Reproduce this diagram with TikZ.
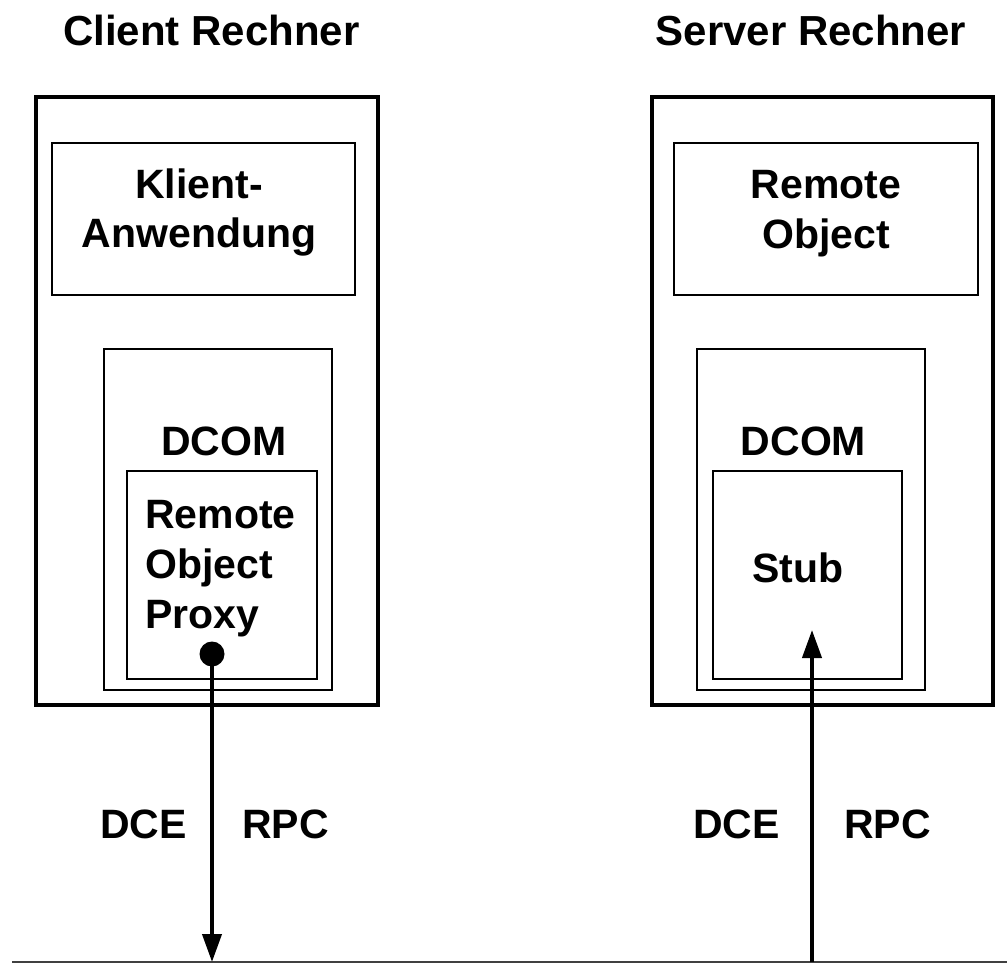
\documentclass[tikz,border=0pt]{standalone}
\usepackage{fontspec}
\setmainfont{Liberation Sans}
\usetikzlibrary{arrows.meta}

% Multi-line label whose baseline is that of its first line
\newcommand{\cblock}[1]{\begin{tabular}[t]{@{}c@{}}#1\end{tabular}}
\newcommand{\lblock}[1]{\begin{tabular}[t]{@{}l@{}}#1\end{tabular}}

\tikzset{
  hostbox/.style={draw, line width=4pt, inner sep=0pt, rectangle},
  appbox/.style={draw, line width=1.8pt, inner sep=0pt, rectangle},
  layerbox/.style={draw, line width=1.8pt, inner sep=0pt, rectangle},
  title/.style={font=\fontsize{42}{48}\selectfont\bfseries, anchor=base, inner sep=0pt},
  lbl/.style={font=\fontsize{41}{50}\selectfont\bfseries, anchor=base, inner sep=0pt},
  lbllines/.style={font=\fontsize{41}{50}\selectfont\bfseries, inner sep=0pt},
  rpcarrow/.style={line width=4pt, -{Triangle[length=28pt,width=19pt]}},
  busline/.style={line width=1.5pt, draw=black!75},
}

\begin{document}
\begin{tikzpicture}[x=1pt, y=-1pt]
  \useasboundingbox (0,0) rectangle (1007,963);

  % host titles
  \node[title] (tclient) at (211.5,46) {Client Rechner};
  \node[title] (tserver) at (811,46) {Server Rechner};

  % host frames
  \node[hostbox, minimum width=342pt, minimum height=608pt] (client) at (207,401) {};
  \node[hostbox, minimum width=341pt, minimum height=608pt] (server) at (822.5,401) {};

  % application level
  \node[appbox, minimum width=303pt, minimum height=152pt] (clientapp) at (203.5,219) {};
  \node[lbl] (clientapptext) at (199,198) {\cblock{Klient-\\Anwendung}};
  \node[appbox, minimum width=304pt, minimum height=152pt] (remobj) at (826,219) {};
  \node[lbl] (remobjtext) at (826,198.5) {\cblock{Remote\\Object}};

  % DCOM layer, client side
  \node[layerbox, minimum width=228pt, minimum height=341pt] (dcomc) at (218,519.5) {};
  \node[lbl] (dcomctext) at (224,455) {DCOM};
  \node[layerbox, minimum width=190pt, minimum height=208pt] (proxy) at (222,575) {};
  \node[lbllines, anchor=base west] (proxytext) at (145,528)
    {\lblock{Remote\\Object\\Proxy}};

  % DCOM layer, server side
  \node[layerbox, minimum width=228pt, minimum height=341pt] (dcoms) at (811,519.5) {};
  \node[lbl] (dcomstext) at (803.5,455) {DCOM};
  \node[layerbox, minimum width=189pt, minimum height=208pt] (stub) at (807.5,575) {};
  \node[lbl, anchor=base west] (stubtext) at (752,582) {Stub};

  % network line
  \coordinate (busW) at (12,962);
  \coordinate (busE) at (1007,962);
  \draw[busline] (busW) -- (busE);

  % RPC connections
  \node[circle, fill, inner sep=0pt, minimum size=25pt] (port) at (212,654) {};
  \coordinate (busL) at (212,962);
  \coordinate (busR) at (812,962);
  \coordinate (stubin) at (812,630);
  \draw[rpcarrow] (port.center) -- (busL);
  \draw[rpcarrow] (busR) -- (stubin);

  % protocol labels
  \node[lbl, anchor=base east] (dceL) at (187,838) {DCE};
  \node[lbl, anchor=base west] (rpcL) at (242,838) {RPC};
  \node[lbl, anchor=base west] (dceR) at (693,838) {DCE};
  \node[lbl, anchor=base west] (rpcR) at (844,838) {RPC};
\end{tikzpicture}
\end{document}
